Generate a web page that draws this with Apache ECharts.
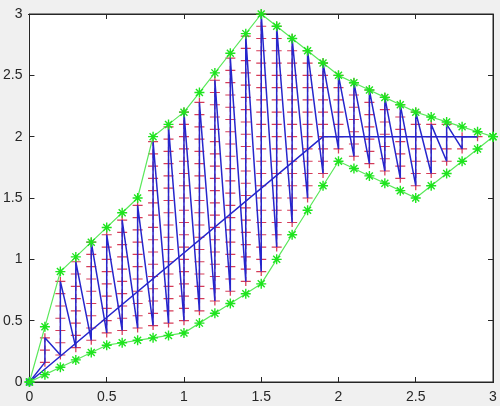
<!DOCTYPE html>
<html><head><meta charset="utf-8">
<script src="https://cdn.jsdelivr.net/npm/echarts@6/dist/echarts.min.js"></script>
<style>
html,body{margin:0;padding:0;background:#f0f0f0}
#wrap{position:relative;width:500px;height:406px}
#plotbg{position:absolute;left:28px;top:14px;width:466px;height:369px;background:#fff;box-sizing:border-box;border-top:1px solid #262626;border-right:1px solid #262626}
#c{position:absolute;left:0;top:0;width:500px;height:406px;z-index:2}
</style>
</head><body><div id="wrap"><div id="plotbg"></div><div id="c"></div></div><script>
// boundary curves (green)
const boundX = [0,0.1,0.2,0.3,0.4,0.5,0.6,0.7,0.8,0.9,1.0,1.1,1.2,1.3,1.4,1.5,1.6,1.7,1.8,1.9,2.0,2.1,2.2,2.3,2.4,2.5,2.6,2.7,2.8,2.9,3.0];
const upperY = [0,0.45,0.9,1.02,1.14,1.26,1.38,1.5,2.0,2.1,2.2,2.36,2.52,2.68,2.84,3.0,2.9,2.8,2.7,2.6,2.5,2.44,2.38,2.32,2.26,2.2,2.16,2.12,2.08,2.04,2.0];
const lowerY = [0,0.06,0.12,0.18,0.24,0.3,0.32,0.34,0.36,0.38,0.4,0.48,0.56,0.64,0.72,0.8,1.0,1.2,1.4,1.6,1.8,1.74,1.68,1.62,1.56,1.5,1.6,1.7,1.8,1.9,2.0];
// interior nodes (red +), one list per column, bottom to top
const colX = [0.1,0.2,0.3,0.4,0.5,0.6,0.7,0.8,0.9,1.0,1.1,1.2,1.3,1.4,1.5,1.6,1.7,1.8,1.9,2.0,2.1,2.2,2.3,2.4,2.5,2.6,2.7,2.8,2.9];
const colY = [
 [0.16,0.26,0.36],
 [0.22,0.32,0.42,0.52,0.62,0.72,0.82],
 [0.28,0.38,0.48,0.58,0.68,0.78,0.88,0.98],
 [0.34,0.44,0.54,0.64,0.74,0.84,0.94,1.04,1.14],
 [0.40,0.50,0.60,0.70,0.80,0.90,1.00,1.10,1.20],
 [0.42,0.52,0.62,0.72,0.82,0.92,1.02,1.12,1.22,1.32],
 [0.44,0.54,0.64,0.74,0.84,0.94,1.04,1.14,1.24,1.34,1.44],
 [0.46,0.56,0.66,0.76,0.86,0.96,1.06,1.16,1.26,1.36,1.46,1.56,1.66,1.76,1.86,1.96],
 [0.48,0.58,0.68,0.78,0.88,0.98,1.08,1.18,1.28,1.38,1.48,1.58,1.68,1.78,1.88,1.98,2.08],
 [0.50,0.60,0.70,0.80,0.90,1.00,1.10,1.20,1.30,1.40,1.50,1.60,1.70,1.80,1.90,2.00,2.10,2.20],
 [0.58,0.68,0.78,0.88,0.98,1.08,1.18,1.28,1.38,1.48,1.58,1.68,1.78,1.88,1.98,2.08,2.18,2.28],
 [0.66,0.76,0.86,0.96,1.06,1.16,1.26,1.36,1.46,1.56,1.66,1.76,1.86,1.96,2.06,2.16,2.26,2.36,2.46],
 [0.74,0.84,0.94,1.04,1.14,1.24,1.34,1.44,1.54,1.64,1.74,1.84,1.94,2.04,2.14,2.24,2.34,2.44,2.54,2.64],
 [0.82,0.92,1.02,1.12,1.22,1.32,1.42,1.52,1.62,1.72,1.82,1.92,2.02,2.12,2.22,2.32,2.42,2.52,2.62,2.72,2.82],
 [0.90,1.00,1.10,1.20,1.30,1.40,1.50,1.60,1.70,1.80,1.90,2.00,2.10,2.20,2.30,2.40,2.50,2.60,2.70,2.80,2.90,3.00],
 [1.10,1.20,1.30,1.40,1.50,1.60,1.70,1.80,1.90,2.00,2.10,2.20,2.30,2.40,2.50,2.60,2.70,2.80,2.90],
 [1.30,1.40,1.50,1.60,1.70,1.80,1.90,2.00,2.10,2.20,2.30,2.40,2.50,2.60,2.70,2.80],
 [1.50,1.60,1.70,1.80,1.90,2.00,2.10,2.20,2.30,2.40,2.50,2.60,2.70],
 [1.70,1.80,1.90,2.00,2.10,2.20,2.30,2.40,2.50,2.60],
 [1.90,2.00,2.10,2.20,2.30,2.40,2.50],
 [1.84,1.94,2.04,2.14,2.24,2.34,2.44],
 [1.78,1.88,1.98,2.08,2.18,2.28,2.38],
 [1.72,1.82,1.92,2.02,2.12,2.22,2.32],
 [1.66,1.76,1.86,1.96,2.06,2.16,2.26],
 [1.60,1.70,1.80,1.90,2.00,2.10,2.20],
 [1.70,1.80,1.90,2.00,2.10],
 [1.80,1.90,2.00,2.10],
 [1.90,2.00],
 [2.00]
];
// blue guide line from origin
const guideX = [0, 1.9, 2.9];
const guideY = [0, 2.0, 2.0];
const originPt = [0, 0];

const pairs = (xs, ys) => xs.map((x, i) => [x, ys[i]]);
const nodes = [];
colX.forEach((x, i) => colY[i].forEach(y => nodes.push([x, y])));
const zigzag = [originPt].concat(nodes);

const AX = '#262626';
const font = {color: AX, fontSize: 14, fontFamily: 'Liberation Sans, Arial, sans-serif'};
function mkAxis(pos, labels, margin) {
  return {type: 'value', position: pos, min: 0, max: 3, interval: 0.5,
    splitLine: {show: false},
    axisLine: {show: true, onZero: false, lineStyle: {color: AX, width: 1}},
    axisTick: {show: true, inside: true, length: 5, lineStyle: {color: AX}},
    axisLabel: labels ? Object.assign({margin: margin}, font) : {show: false}};
}
const star = 'path://M5,0L5,10M0,5L10,5M1.5,1.5L8.5,8.5M8.5,1.5L1.5,8.5';
const plus = 'path://M0,5L10,5M5,0L5,10';

const chart = echarts.init(document.getElementById('c'), null, {renderer: 'canvas'});
chart.setOption({
  backgroundColor: 'transparent',
  animation: false,
  grid: {left: 28, right: 7, top: 14, bottom: 24, show: true, backgroundColor: 'transparent', borderColor: AX, borderWidth: 1},
  xAxis: [mkAxis('bottom', true, 8), mkAxis('top', false)],
  yAxis: [mkAxis('left', true, 7), mkAxis('right', false)],
  series: [
    {type: 'scatter', data: nodes, symbol: plus, symbolSize: [10, 9], z: 2,
     itemStyle: {color: 'rgba(0,0,0,0)', borderColor: '#cc0a2e', borderWidth: 1.2}},
    {type: 'line', data: zigzag, showSymbol: false, z: 3,
     lineStyle: {color: '#2626cc', width: 1.5}},
    {type: 'line', data: pairs(guideX, guideY), showSymbol: false, z: 3,
     lineStyle: {color: '#2626cc', width: 1.5}},
    {type: 'scatter', data: [originPt], symbol: 'rect', symbolSize: 7, z: 4,
     itemStyle: {color: '#1a1ad0'}},
    {type: 'line', data: pairs(boundX, upperY), symbol: star, symbolSize: 10, z: 5,
     lineStyle: {color: '#5ae85a', width: 1.2},
     itemStyle: {color: 'rgba(0,0,0,0)', borderColor: '#1ee41e', borderWidth: 1.4}},
    {type: 'line', data: pairs(boundX, lowerY), symbol: star, symbolSize: 10, z: 5,
     lineStyle: {color: '#5ae85a', width: 1.2},
     itemStyle: {color: 'rgba(0,0,0,0)', borderColor: '#1ee41e', borderWidth: 1.4}}
  ]
});
</script></body></html>
